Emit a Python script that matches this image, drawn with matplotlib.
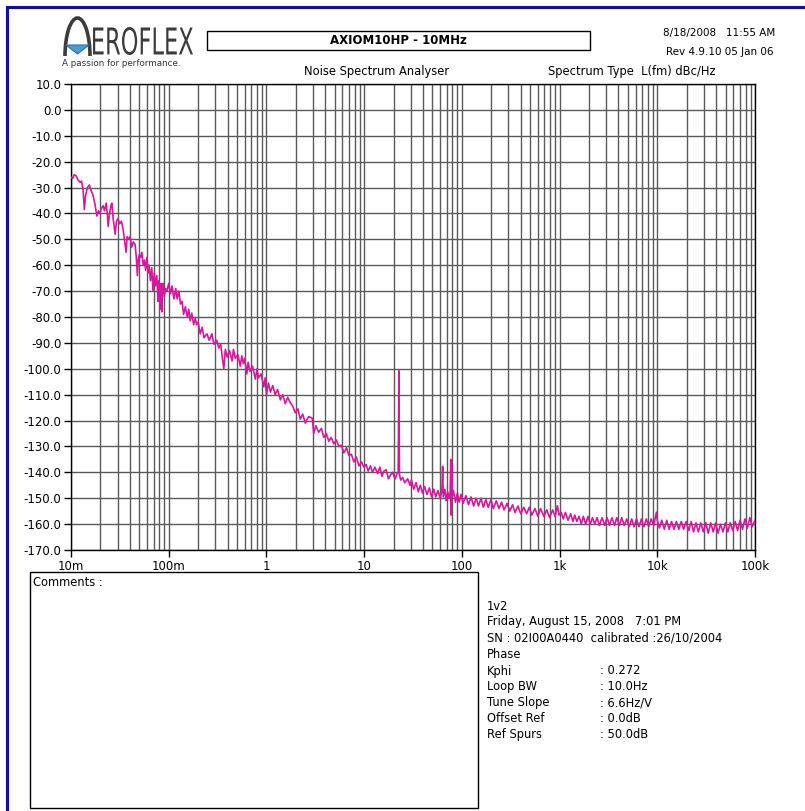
import numpy as np
import matplotlib
matplotlib.use("Agg")
import matplotlib.pyplot as plt
from matplotlib.textpath import TextPath
from matplotlib.patches import PathPatch, Arc, Polygon, Rectangle
from matplotlib.transforms import Affine2D
from matplotlib.ticker import LogLocator, FixedLocator, NullFormatter

plt.rcParams['font.family'] = ['DejaVu Sans']

# phase noise trace, offset frequency (Hz) vs L(fm) (dBc/Hz)
freq_a = [0.0100, 0.0104, 0.0108, 0.0113, 0.0118, 0.0124, 0.0128, 0.0133, 0.0137, 0.0141,
          0.0147, 0.0154, 0.0160, 0.0168, 0.0175, 0.0184, 0.0191, 0.0198, 0.0205, 0.0213,
          0.0220, 0.0229, 0.0235, 0.0240, 0.0248, 0.0256, 0.0262, 0.0270, 0.0283, 0.0292,
          0.0303, 0.0315, 0.0328, 0.0341, 0.0352, 0.0366, 0.0375, 0.0389, 0.0402, 0.0418,
          0.0435, 0.0453, 0.0466, 0.0478, 0.0487, 0.0500, 0.0515, 0.0531, 0.0548, 0.0565,
          0.0580, 0.0598, 0.0615, 0.0630, 0.0650, 0.0671, 0.0690, 0.0710, 0.0730, 0.0756,
          0.0775, 0.0790, 0.0805, 0.0818, 0.0832, 0.0850, 0.0865, 0.0878, 0.0900, 0.0930,
          0.0959]
dbc_a = [-26, -26.5, -25, -25.5, -27, -28, -27.5, -31, -38.5, -33,
         -30, -29, -31, -33, -36, -41, -39, -40, -38, -37,
         -39, -36, -40, -45, -40, -37, -36, -42, -48, -43,
         -42, -44, -43, -46, -50, -55, -49, -50, -49, -53,
         -51, -52, -57, -64, -58, -56, -57, -55, -60, -58,
         -62, -57, -63, -60, -66, -61, -70, -63, -68, -64,
         -74, -66, -72, -77, -67, -78, -68, -67, -72, -69,
         -70]

freq_b = [0.100, 0.104, 0.108, 0.113, 0.118, 0.122, 0.127, 0.132, 0.137, 0.142,
          0.148, 0.155, 0.160, 0.166, 0.172, 0.180, 0.187, 0.193, 0.200, 0.210,
          0.220, 0.230, 0.246, 0.260, 0.277, 0.290, 0.310, 0.325, 0.340, 0.352,
          0.366, 0.380, 0.397, 0.420, 0.445, 0.460, 0.480, 0.510, 0.540, 0.560,
          0.580, 0.600, 0.630, 0.650, 0.680, 0.720, 0.770, 0.800, 0.830, 0.880,
          0.940, 0.970, 1.00, 1.05, 1.10, 1.16, 1.23, 1.30, 1.39, 1.47,
          1.56, 1.65, 1.75, 1.86, 1.97, 2.10, 2.22, 2.35, 2.50, 2.70,
          2.94, 3.05, 3.20, 3.43, 3.65, 3.86, 4.10, 4.35, 4.60, 4.89,
          5.20, 5.51, 5.85, 6.20, 6.60, 6.98, 7.40, 7.85, 8.30, 8.84,
          9.40, 9.95]
dbc_b = [-67, -71, -68, -73, -69, -73, -70, -75, -74, -79,
         -76, -80, -77, -81.5, -78.5, -83, -80.5, -83, -82, -86.5,
         -84, -88, -86.5, -89, -86.5, -90.5, -89, -92, -90.5, -95,
         -100, -92.5, -95.5, -93, -97, -92.5, -96, -94.5, -99, -95,
         -98, -96, -102, -97.5, -101, -99, -104, -100, -103.5, -102,
         -107, -103.5, -110, -105.5, -109, -106.5, -110, -108, -112, -110,
         -113.5, -111, -113, -114.5, -117, -115.5, -119.5, -117.5, -121, -118.5,
         -119, -125, -122, -124.5, -123, -126.5, -125, -128, -126.5, -129,
         -127.5, -130, -129.5, -132.5, -130.5, -133.5, -133, -136, -134, -137.5,
         -136, -138]

freq_c = [10.5, 11.0, 11.6, 12.2, 12.9, 13.7, 14.5, 15.2, 15.9, 16.8,
          17.7, 18.6, 19.6, 20.7, 21.8, 22.3, 22.7, 23.0, 23.7, 24.8,
          26.0, 27.9, 29.5, 30.5, 32.1, 34.0, 35.8, 37.6, 39.5, 41.5,
          44.0, 46.5, 49.0, 51.6, 54.0, 57.0, 60.0, 62.5, 63.6, 64.5,
          67.0, 69.0, 71.5, 74.0, 76.0, 77.0, 77.8, 78.5, 79.5, 82.0,
          86.0, 90.0, 94.0, 98.3, 103, 110, 117, 124, 132, 140,
          148, 157, 166, 176, 186, 198, 210, 225, 240, 255,
          270, 290, 310, 330, 350, 375, 400, 430, 460, 490,
          520, 560, 600, 640, 690, 740, 790, 850, 900, 950,
          990]
dbc_c = [-137, -139.5, -137.5, -140, -138, -140.5, -138, -141.5, -139.5, -139,
         -142.5, -141, -140, -142.5, -140.5, -140, -100.8, -141, -143, -142,
         -144, -142.5, -145, -143, -146.5, -144, -147.5, -145, -148, -145.5,
         -148.5, -146, -149.5, -146.5, -149.5, -147, -150, -147, -137.7, -149.5,
         -146.5, -151, -147.5, -150, -147.5, -135, -156.5, -136, -149.5, -147,
         -151.5, -148, -151.5, -148.5, -152, -149, -152.5, -149.5, -153, -150,
         -153, -150, -153.5, -150.5, -153.5, -150.5, -154, -151, -154, -151.5,
         -154.5, -152, -155, -152.5, -155.5, -153, -156, -153.5, -156, -153.5,
         -156.5, -154, -157, -154, -157, -154.5, -157.5, -154.5, -157, -152.9,
         -156.5]

freq_d = [1040, 1090, 1150, 1220, 1300, 1370, 1430, 1500, 1580, 1670,
          1750, 1850, 1950, 2060, 2170, 2290, 2420, 2560, 2720, 2890,
          3060, 3250, 3440, 3640, 3850, 4080, 4330, 4590, 4870, 5160,
          5470, 5780, 6130, 6500, 6880, 7280, 7720, 8180, 8660, 9200,
          9600, 9800, 10000, 10500, 11100, 11800, 12500, 13200, 14000, 14800,
          15700, 16600, 17600, 18600, 19700, 21000, 22200, 23500, 24900, 26300,
          27900, 29600, 31400, 33200, 35200, 37300, 39600, 41900, 44300, 47000,
          49800, 52700, 55800, 59200, 62700, 66400, 70300, 74500, 78900, 83600,
          88500, 93800, 100000]
dbc_d = [-155.5, -158, -155.5, -158.5, -156, -159, -156.5, -159, -157, -160,
         -157, -160, -157, -160, -157.5, -160, -157.5, -160.5, -157.5, -160.5,
         -157.5, -160.5, -157.5, -160.5, -157.5, -160.5, -157.5, -160.5, -158, -161,
         -158, -161, -158, -161, -158, -161, -158, -161, -158, -160.5,
         -157, -155.4, -158.5, -161.5, -158.5, -162, -158.5, -162, -159, -162,
         -159, -162, -159, -162, -159, -162.5, -159, -163, -159.5, -163,
         -159.5, -163, -159.5, -163.5, -159.5, -163, -159.5, -163.5, -160, -163,
         -159.5, -163, -159.5, -162.5, -159, -162.5, -158.5, -162, -158, -161.5,
         -157.5, -161, -158.5]

y_ticks = list(range(-170, 11, 10))
x_ticks = [0.01, 0.1, 1, 10, 100, 1e3, 1e4, 1e5]
x_ticklabels = ['10m', '100m', '1', '10', '100', '1k', '10k', '100k']

info_labels = ['Kphi', 'Loop BW', 'Tune Slope', 'Offset Ref', 'Ref Spurs']
info_values = [': 0.272', ': 10.0Hz', ': 6.6Hz/V', ': 0.0dB', ': 50.0dB']

W, H = 805, 811
fig = plt.figure(figsize=(W/100, H/100), dpi=100)
fig.patch.set_facecolor('white')

# page layer in pixel coordinates
pg = fig.add_axes([0, 0, 1, 1])
pg.set_xlim(0, W)
pg.set_ylim(H, 0)
pg.axis('off')

navy = '#1010a0'
pg.plot([7, 7], [7, H], color=navy, lw=2.2)
pg.plot([7, W], [7, 7], color=navy, lw=2.2)

# logo
pg.add_patch(Arc((77.5, 56), 25, 76, theta1=180, theta2=360, color='#3c3c3c', lw=2.6))
pg.add_patch(Polygon([[66, 45], [89, 45], [77.5, 54]], closed=True, fc='#4a9ad6', ec='#2e6fa8', lw=0.8))
tp = TextPath((0, 0), 'EROFLEX', size=40, prop={'family': 'DejaVu Sans'})
ext = tp.get_extents()
sx = 100 / ext.width
sy = 28 / ext.height
tr = Affine2D().translate(-ext.x0, -ext.y0).scale(sx, -sy).translate(93, 55) + pg.transData
pg.add_patch(PathPatch(tp, fc='#3c3c3c', ec='none', transform=tr))
pg.text(62, 63, 'A passion for performance.', fontsize=6.3, va='center', ha='left', color='#333333')

# header
pg.add_patch(Rectangle((207, 31), 383, 19, fill=False, ec='black', lw=1))
pg.text(398, 41, 'AXIOM10HP - 10MHz', fontsize=8.5, fontweight='bold', ha='center', va='center')
pg.text(775, 33, '8/18/2008   11:55 AM', fontsize=7.5, ha='right', va='center')
pg.text(773, 52, 'Rev 4.9.10 05 Jan 06', fontsize=7.5, ha='right', va='center')
pg.text(377, 71, 'Noise Spectrum Analyser', fontsize=8.3, ha='center', va='center')
pg.text(548, 71, 'Spectrum Type  L(fm) dBc/Hz', fontsize=8.3, ha='left', va='center')

# comments box and run info
pg.add_patch(Rectangle((30, 572), 448, 236, fill=False, ec='black', lw=1))
pg.text(33, 583, 'Comments :', fontsize=8.3, ha='left', va='center')
pg.text(487, 606, '1v2', fontsize=8.3, va='center')
pg.text(487, 622, 'Friday, August 15, 2008   7:01 PM', fontsize=8.3, va='center')
pg.text(487, 638, 'SN : 02I00A0440  calibrated :26/10/2004', fontsize=8.3, va='center')
pg.text(487, 655, 'Phase', fontsize=8.3, va='center')
for i in range(len(info_labels)):
    pg.text(487, 671 + i*15.8, info_labels[i], fontsize=8.3, va='center')
    pg.text(600, 671 + i*15.8, info_values[i], fontsize=8.3, va='center')

# plot
ax = fig.add_axes([71/W, 1 - 550/H, 684/W, 466/H])
freq = freq_a + freq_b + freq_c + freq_d
dbc = dbc_a + dbc_b + dbc_c + dbc_d
ax.plot(freq, dbc, color='#d6189e', lw=1.2, zorder=3)
ax.set_xscale('log')
ax.set_xlim(0.01, 1e5)
ax.set_ylim(-170, 10)
ax.xaxis.set_major_locator(FixedLocator(x_ticks))
ax.set_xticklabels(x_ticklabels)
ax.xaxis.set_minor_locator(LogLocator(base=10, subs=np.arange(2, 10), numticks=20))
ax.xaxis.set_minor_formatter(NullFormatter())
ax.set_yticks(y_ticks)
ax.set_yticklabels(['%.1f' % v for v in y_ticks])
ax.grid(which='major', axis='both', color='#5a5a5a', lw=1.0)
ax.grid(which='minor', axis='x', color='#5a5a5a', lw=1.0)
ax.tick_params(axis='both', which='major', direction='out', length=5, width=1, labelsize=8.5, pad=2)
ax.tick_params(axis='x', which='minor', length=0)
for s in ax.spines.values():
    s.set_color('black')
    s.set_linewidth(1)

fig.savefig('out.png', dpi=100)
